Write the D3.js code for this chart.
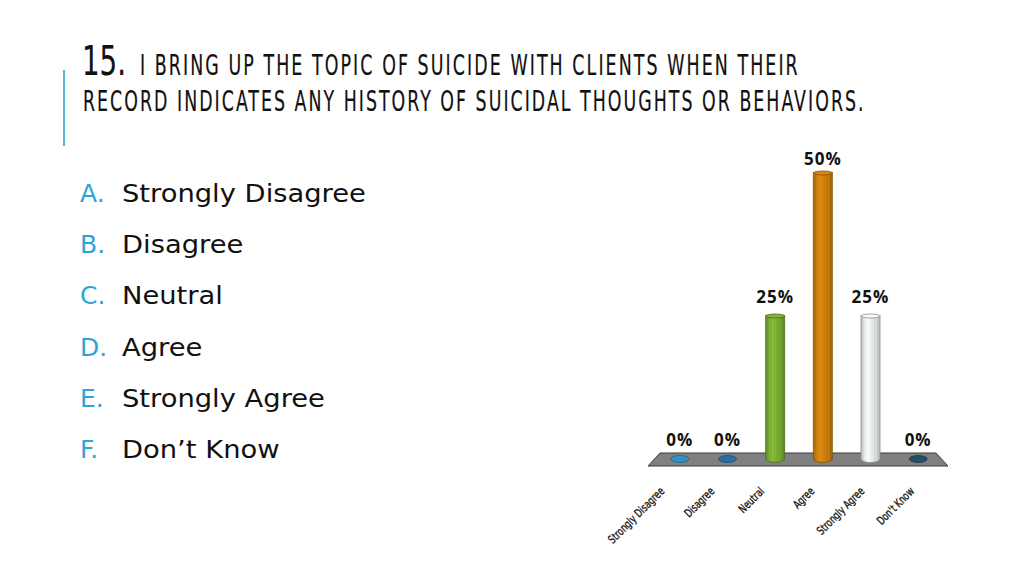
<!DOCTYPE html>
<html>
<head>
<meta charset="utf-8">
<script src="https://cdn.jsdelivr.net/npm/d3@7"></script>
<style>
  body { margin: 0; background: #fff; }
  svg { display: block; }
</style>
</head>
<body>
<svg id="slide" width="1024" height="576"></svg>
<script>
// data
const categories = ["Strongly Disagree", "Disagree", "Neutral", "Agree", "Strongly Agree", "Don\u2019t Know"];
const tickLabels = ["Strongly Disagree", "Disagree", "Neutral", "Agree", "Strongly Agree", "Don't Know"];
const percents = [0, 0, 25, 50, 25, 0];
const letters = ["A.", "B.", "C.", "D.", "E.", "F."];
const barColors = ["#2f93c4", "#2a6ea3", "#24516a", "#78a933", "#c97d0e", "#e6e8e9"];
const colorIndex = [0, 1, 3, 4, 5, 2];

const svg = d3.select("#slide");
const titleFont = "'DejaVu Sans Condensed', 'Liberation Sans Narrow', sans-serif";
const bodyFont = "'DejaVu Sans', 'Noto Sans', sans-serif";

// squeeze a text horizontally so it spans width w (keeps glyph height)
function fitText(sel, px, py, w) {
  const nat = sel.node().getBBox().width;
  sel.attr("x", 0).attr("y", 0)
    .attr("transform", "translate(" + px + "," + py + ") scale(" + (w / nat) + ",1)");
}

// accent line
svg.append("line")
  .attr("x1", 64).attr("x2", 64)
  .attr("y1", 70).attr("y2", 146)
  .attr("stroke", "#5bb8d9").attr("stroke-width", 2);

// title
const t0 = svg.append("text")
  .attr("font-family", titleFont).attr("font-size", 41)
  .attr("fill", "#111").attr("stroke", "#111").attr("stroke-width", 0.15)
  .text("15.");
fitText(t0, 82, 75, 44);
const t1 = svg.append("text")
  .attr("font-family", titleFont).attr("font-size", 28)
  .attr("letter-spacing", 3)
  .attr("fill", "#111").attr("stroke", "#111").attr("stroke-width", 0.2)
  .text("I BRING UP THE TOPIC OF SUICIDE WITH CLIENTS WHEN THEIR");
fitText(t1, 140, 75, 660);
const t2 = svg.append("text")
  .attr("font-family", titleFont).attr("font-size", 28.5)
  .attr("letter-spacing", 3)
  .attr("fill", "#111").attr("stroke", "#111").attr("stroke-width", 0.2)
  .text("RECORD INDICATES ANY HISTORY OF SUICIDAL THOUGHTS OR BEHAVIORS.");
fitText(t2, 83, 111, 783);

// answer list
const list = svg.append("g");
const items = [];
categories.forEach(function(c, i) {
  const yy = 202 + i * 51.2;
  list.append("text")
    .attr("x", 80).attr("y", yy)
    .attr("font-family", bodyFont).attr("font-size", 25)
    .attr("fill", "#2ea3d5")
    .text(letters[i]);
  items.push(list.append("text")
    .attr("font-family", bodyFont).attr("font-size", 25)
    .attr("fill", "#111")
    .text(c));
});
const listScale = 244 / items[0].node().getBBox().width;
items.forEach(function(t, i) {
  t.attr("transform", "translate(122," + (202 + i * 51.2) + ") scale(" + listScale + ",1)");
});

// chart
const x = d3.scaleBand().domain(tickLabels).range([656, 942]).padding(0);
const y = d3.scaleLinear().domain([0, 50]).range([458, 172]);
const bw = 19;
const cx = d => x(d) + x.bandwidth() / 2;
const y0 = y(0);

const defs = svg.append("defs");
barColors.forEach(function(col, i) {
  const g = defs.append("linearGradient").attr("id", "cyl" + i)
    .attr("x1", "0%").attr("x2", "100%").attr("y1", "0%").attr("y2", "0%");
  g.append("stop").attr("offset", "0%").attr("stop-color", d3.color(col).darker(0.5));
  g.append("stop").attr("offset", "35%").attr("stop-color", d3.color(col).brighter(0.25));
  g.append("stop").attr("offset", "100%").attr("stop-color", d3.color(col).darker(0.6));
});

// floor
const x0 = x.range()[0], x1 = x.range()[1];
const floorPts = [[x0 + 4, y0 - 5], [x1 - 6, y0 - 5], [x1 + 6, y0 + 8], [x0 - 8, y0 + 8]];
svg.append("path")
  .attr("d", d3.line()(floorPts) + "Z")
  .attr("fill", "#808080").attr("stroke", "#3a3a3a").attr("stroke-width", 1);

const bars = svg.append("g").selectAll("g")
  .data(tickLabels)
  .enter().append("g");

bars.each(function(d, i) {
  const g = d3.select(this);
  const v = percents[i];
  const col = barColors[colorIndex[i]];
  const fill = "url(#cyl" + colorIndex[i] + ")";
  const c = cx(d);
  if (v === 0) {
    g.append("ellipse")
      .attr("cx", c).attr("cy", y0 + 1)
      .attr("rx", 9).attr("ry", 3.5)
      .attr("fill", col).attr("stroke", d3.color(col).darker(1)).attr("stroke-width", 0.8);
    return;
  }
  const edge = col === "#e6e8e9" ? "#8a8e90" : d3.color(col).darker(1.2);
  g.append("ellipse")
    .attr("cx", c).attr("cy", y0 + 1)
    .attr("rx", bw / 2).attr("ry", 3.5)
    .attr("fill", fill).attr("stroke", edge).attr("stroke-width", 0.8);
  g.append("rect")
    .attr("x", c - bw / 2).attr("y", y(v))
    .attr("width", bw).attr("height", y0 + 1 - y(v))
    .attr("fill", fill);
  // vertical stripes
  [0.2, 0.35, 0.5, 0.65, 0.8].forEach(function(f) {
    g.append("line")
      .attr("x1", c - bw / 2 + f * bw).attr("x2", c - bw / 2 + f * bw)
      .attr("y1", y(v) + 2).attr("y2", y0 + 3)
      .attr("stroke", d3.color(col).brighter(0.6)).attr("stroke-width", 0.6)
      .attr("opacity", 0.6);
  });
  g.append("line")
    .attr("x1", c - bw / 2).attr("x2", c - bw / 2)
    .attr("y1", y(v)).attr("y2", y0 + 1)
    .attr("stroke", edge).attr("stroke-width", 0.8);
  g.append("line")
    .attr("x1", c + bw / 2).attr("x2", c + bw / 2)
    .attr("y1", y(v)).attr("y2", y0 + 1)
    .attr("stroke", edge).attr("stroke-width", 0.8);
  g.append("ellipse")
    .attr("cx", c).attr("cy", y(v) + 1)
    .attr("rx", bw / 2).attr("ry", 2)
    .attr("fill", d3.color(col).brighter(0.2)).attr("stroke", edge).attr("stroke-width", 0.8);
});

// value labels
svg.append("g").selectAll("text")
  .data(tickLabels)
  .enter().append("text")
  .attr("x", d => cx(d))
  .attr("y", (d, i) => Math.max(y(percents[i]) - 12, 165))
  .attr("text-anchor", "middle")
  .attr("font-family", "'Open Sans', 'Noto Sans', sans-serif")
  .attr("font-weight", "bold").attr("font-size", 17)
  .attr("letter-spacing", 1)
  .attr("fill", "#111")
  .text((d, i) => percents[i] + "%");

// category axis labels, rotated, spread along the floor's front edge
const xLab = d3.scaleBand().domain(tickLabels).range([x0 - 8, x1 + 6]).padding(0);
const axis = svg.append("g").attr("transform", "translate(0,492)")
  .call(d3.axisBottom(xLab).tickSize(0).tickPadding(0));
axis.select(".domain").remove();
const labs = axis.selectAll(".tick text")
  .attr("font-family", "'DejaVu Sans Condensed', sans-serif")
  .attr("font-size", 11.5)
  .attr("fill", "#111")
  .attr("stroke", "#111").attr("stroke-width", 0.3)
  .attr("text-anchor", "end")
  .attr("dy", 0);
const labScale = 74 / labs.nodes()[0].getComputedTextLength();
labs.attr("transform", "translate(-8,0) rotate(-45) scale(" + labScale + ",1)");
</script>
</body>
</html>
